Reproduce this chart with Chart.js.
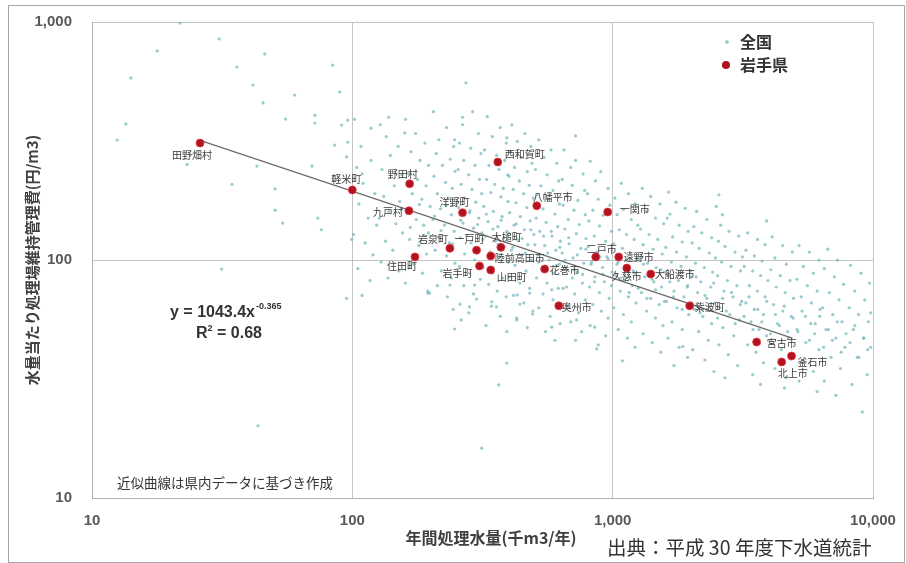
<!DOCTYPE html>
<html>
<head>
<meta charset="utf-8">
<title>水量当たり処理場維持管理費</title>
<script src="https://cdn.jsdelivr.net/npm/chart.js@4.4.1/dist/chart.umd.min.js"></script>
<style>
  html, body { margin: 0; padding: 0; background: #fff; }
  #wrap { position: relative; width: 906px; height: 563px; }
  #frame { position: absolute; left: 8px; top: 5px; width: 895px; height: 556px; border: 1px solid #a6a6a6; pointer-events: none; }
  canvas { position: absolute; left: 0; top: 0; }
</style>
</head>
<body>
<div id="wrap">
  <canvas id="chart" width="906" height="563"></canvas>
  <div id="frame"></div>
</div>
<script>
const xTickValues = [10, 100, 1000, 10000];
const xTickLabels = ["10", "100", "1,000", "10,000"];
const yTickValues = [10, 100, 1000];
const yTickLabels = ["10", "100", "1,000"];

// 岩手県 (県内の処理場)
const iwateNames = [
  "田野畑村", "軽米町", "野田村", "九戸村", "洋野町", "西和賀町", "八幡平市", "一関市",
  "岩泉町", "一戸町", "大槌町", "陸前高田市", "住田町", "岩手町", "山田町", "花巻市",
  "二戸市", "遠野市", "久慈市", "大船渡市", "紫波町", "奥州市", "宮古市", "釜石市", "北上市"
];
const iwateX = [26, 100, 166, 165, 265, 362, 511, 957, 237, 300, 372, 340, 174, 308, 340, 548,
  861, 1055, 1133, 1400, 1977, 621, 3573, 4864, 4458];
const iwateY = [310, 197, 209, 161, 158, 258, 169, 159, 112, 110, 113, 104, 103, 94.4, 90.8, 91.6,
  103, 103, 92.5, 87.3, 64.2, 64.2, 45.2, 39.5, 37.3];

// label placement: [dx, dy, align]
const labelPlace = [
  [-8, 12, "center"], [-6, -11, "center"], [-7, -10, "center"], [-6, 1, "right"],
  [-8, -11, "center"], [7, -8, "left"], [-4, -9, "left"], [12, -3, "left"],
  [-2, -9, "right"], [-7, -11, "center"], [6, -10, "center"], [4, 2, "left"],
  [-13, 9, "center"], [-22, 7, "center"], [21, 7, "center"], [5, 1, "left"],
  [6, -8, "center"], [5, 0, "left"], [0, 8, "center"], [4, 0, "left"],
  [5, 1, "left"], [3, 1, "left"], [10, 1, "left"], [6, 6, "left"], [11, 11, "center"]
];

// 近似曲線 y = 1043.4x^-0.365 (県内データ)
const trendX = [26, 4900];
const trendY = [318, 47];

// 全国
const zenkoku = [
  // sparse, small plants
  [21.8,990],[30.8,849],[17.8,756],[46.1,734],[36,647],[14.1,582],[41.5,543],[84,659],[89.5,508],[60,493],
  [45.4,457],[55.4,391],[71.8,406],[71.8,376],[13.5,373],[12.5,319],[91,369],[96,387],[85.5,304],[96,313],
  [70,248],[43,248],[23.2,252],[34.5,208],[50.5,199],[50.5,162],[54,143],[73.7,150],[76,134],[95,271],
  [99.5,122],[31.5,91.6],[95,69],[109,71],[198,72.6],[43.4,20.1],
  [138,398],[265,398],[720,332],[392,326],[118,358],[159,342],[247,320],
  [247,51.3],[392,36.9],[365,29.9],[314,16.2],[869,42.3],[583,52.2],[428,56],[493,59.3],[440,65.3],
  [358,63.5],[282,63.5],[259,65.3],[195,72.6],[300,68.5],[343,66.7],[237,78.5],[295,78.5],[430,71.3],
  [480,72.6],[665,77],[727,56],[853,52.2],[583,75],[1090,37.7],[1860,43.3],
  // 100 - 126
  [102,390],[108,300],[104,245],[118,262],[110,210],[122,190],[106,172],[115,150],[124,140],[101,128],
  [112,118],[120,105],[105,92],[117,82],[109,230],
  // 126 - 158
  [128,370],[135,330],[150,300],[140,275],[130,240],[155,228],[145,205],[132,185],[152,176],[138,160],
  [127,150],[147,142],[156,130],[134,120],[143,110],[129,98],[151,90],[137,84],
  // 158 - 200
  [160,390],[175,340],[190,310],[168,285],[182,262],[196,250],[163,232],[178,218],[192,205],[170,190],
  [185,180],[199,168],[162,158],[176,148],[188,140],[196,130],[166,122],[180,115],[193,106],[172,96],
  [186,88],[160,80],[195,74],
  // 200 - 251
  [205,420],[230,360],[215,320],[245,300],[210,280],[238,265],[222,250],[248,236],[206,225],[228,212],
  [242,200],[212,190],[234,182],[250,172],[218,164],[240,155],[204,148],[226,140],[246,132],[214,125],
  [236,118],[208,110],[230,104],[248,97],[220,90],[240,84],[212,78],[232,70],[244,62],
  // 251 - 316
  [273,555],[290,420],[265,370],[305,340],[258,310],[285,295],[312,280],[268,262],[296,250],[255,240],
  [280,228],[308,218],[262,208],[288,198],[314,190],[270,182],[298,175],[256,166],[282,158],[306,150],
  [266,143],[292,136],[315,130],[260,124],[286,118],[302,112],[270,106],[295,100],[258,94],[282,88],
  [310,83],[268,78],[292,72],[280,60],[262,56],
  // 316 - 398
  [330,400],[370,360],[345,330],[390,310],[322,290],[358,275],[385,262],[335,250],[366,240],[395,228],
  [328,218],[352,208],[380,200],[340,192],[372,184],[396,176],[320,168],[348,160],[376,152],[332,145],
  [362,138],[392,132],[325,126],[355,120],[384,114],[338,108],[368,103],[397,98],[318,93],[346,88],
  [378,84],[334,79],[360,74],[390,70],[342,64],[370,58],[326,53],[392,50],
  // 398 - 501
  [410,370],[460,340],[430,315],[485,300],[405,285],[445,270],[490,255],[420,245],[470,235],[400,225],
  [438,215],[478,206],[415,198],[455,190],[495,182],[425,174],[468,166],[402,158],[442,152],[482,146],
  [418,140],[458,134],[498,128],[430,122],[472,116],[408,110],[448,105],[488,100],[422,95],[465,90],
  [400,85],[440,80],[480,76],[416,71],[456,66],[494,61],[428,57],[470,52],
  // 501 - 631
  [520,320],[580,290],[545,270],[610,255],[505,240],[560,228],[620,215],[530,205],[590,196],[512,188],
  [565,180],[625,172],[540,164],[600,156],[508,150],[555,144],[615,138],[525,132],[585,126],[630,120],
  [548,115],[605,110],[515,105],[570,100],[625,96],[535,92],[595,88],[510,84],[560,80],[618,76],
  [540,72],[590,68],[520,63],[575,58],[628,54],[552,50],[600,46],
  // 631 - 794
  [650,290],[720,262],[690,245],[770,230],[640,218],[700,206],[780,196],[665,186],[735,178],[645,170],
  [710,162],[785,155],[675,148],[745,141],[655,135],[725,129],[790,123],[680,117],[755,112],[640,107],
  [705,102],[775,97],[660,93],[730,89],[700,84],[765,80],[645,76],[715,72],[785,68],[670,64],
  [740,60],[690,55],[760,50],[720,46],
  // 794 - 1000
  [820,260],[900,235],[860,215],[960,200],[800,190],[880,180],[975,170],[840,162],[920,154],[810,146],
  [890,139],[990,132],[850,126],[940,120],[805,114],[870,108],[950,103],[830,98],[915,93],[995,89],
  [855,85],[930,81],[815,77],[890,73],[970,69],[840,65],[905,61],[960,57],[820,53],[940,48],[880,44],
  // 1000 - 1259
  [1080,210],[1150,190],[1020,182],[1220,172],[1100,163],[1040,155],[1180,148],[1250,140],[1060,134],[1130,128],
  [1210,122],[1010,117],[1090,112],[1170,107],[1240,102],[1050,98],[1120,94],[1200,90],[1030,86],[1110,82],
  [1190,78],[1070,74],[1150,70],[1230,66],[1010,63],[1100,59],[1180,55],[1050,51],[1140,47],[1220,43],
  // 1259 - 1585
  [1300,200],[1400,185],[1520,172],[1350,160],[1460,150],[1570,142],[1280,135],[1380,128],[1490,122],[1310,116],
  [1430,111],[1550,106],[1270,101],[1360,97],[1470,93],[1580,89],[1330,85],[1440,81],[1540,77],[1290,73],
  [1400,69],[1510,65],[1350,61],[1460,57],[1560,53],[1310,49],[1420,45],[1530,41],
  // 1585 - 1995
  [1640,193],[1660,156],[1750,175],[1900,165],[1620,150],[1800,140],[1950,132],[1700,125],[1850,119],[1600,113],
  [1760,108],[1920,103],[1680,98],[1830,94],[1990,90],[1640,86],[1790,82],[1940,78],[1720,74],[1880,70],
  [1610,67],[1770,63],[1960,59],[1690,55],[1850,51],[1630,47],[1800,43],[1940,39],[1720,36],
  // 1995 - 2512
  [2560,188],[2500,168],[2640,155],[2100,160],[2300,148],[2050,138],[2200,130],[2400,124],[2020,118],[2150,112],
  [2350,107],[2480,102],[2080,97],[2250,93],[2420,89],[2000,85],[2180,81],[2380,77],[2120,73],[2300,69],
  [2460,66],[2060,62],[2220,58],[2400,54],[2140,50],[2330,46],[2030,42],[2260,38],[2450,34],
  // 2512 - 3162
  [2600,140],[2800,132],[3050,126],[2550,120],[2700,114],[2950,108],[3150,103],[2620,98],[2850,94],[3100,90],
  [2530,86],[2760,82],[3000,78],[2680,74],[2900,70],[3130,67],[2580,63],[2820,59],[3070,56],[2650,52],
  [2920,48],[2560,44],[2780,40],[3020,36],[2700,32],
  // 3162 - 3981
  [3900,146],[3300,130],[3600,122],[3850,116],[3250,110],[3500,104],[3750,99],[3200,94],[3450,90],[3700,86],
  [3950,82],[3350,78],[3600,74],[3850,70],[3250,66],[3500,62],[3800,59],[3400,55],[3650,51],[3900,48],
  [3300,44],[3550,41],[3800,37],[3450,33],[3700,30],
  // 3981 - 5012
  [4100,125],[4500,115],[4900,108],[4200,102],[4650,96],[4050,91],[4400,86],[4800,82],[4250,77],[4600,73],
  [4950,69],[4150,65],[4500,61],[4850,58],[4300,54],[4700,50],[4050,46],[4450,42],[4900,39],[4570,29],
  [4200,35],[4640,32],
  // 5012 - 6310
  [5200,115],[5700,108],[6200,100],[5400,94],[5900,88],[5100,83],[5600,78],[6100,74],[5300,70],[5800,66],
  [6250,62],[5500,58],[6000,54],[5150,50],[5700,46],[6200,42],[5400,38],[5900,34],[5200,31],[6100,28],
  // 6310 - 7943
  [6700,111],[7300,100],[6500,92],[7100,85],[7700,79],[6800,73],[7400,68],[6400,63],[7000,59],[7600,55],
  [6600,51],[7200,47],[7800,43],[6900,39],[7500,35],[7200,27],[6500,31],
  // 7943 - 10000
  [8200,95],[9000,88],[9700,80],[8500,74],[9300,68],[8100,63],[8800,59],[9600,55],[8400,51],[9200,47],
  [9800,43],[8700,39],[9100,23],[9500,33],[8300,30],[9800,60],
  // dense middle band
  [154,163],[167,137],[181,171],[189,127],[207,153],[219,133],[229,169],[243,117],[261,147],[275,127],
  [283,161],[303,141],[317,122],[327,156],[347,135],[363,116],[373,147],[394,127],[413,113],[426,142],
  [449,123],[462,107],[485,134],[503,116],[518,98],[543,126],[563,107],[581,132],[609,95],[627,113],
  [657,100],[678,124],[709,91],[731,105],[767,87],[789,111],[826,96],[851,81],[893,103],[918,87],
  [962,101],[989,78],[1038,96],[1072,84],[1124,100],[1158,73],[1213,88],[1253,76],[1312,96],[1354,69],
  [1418,83],[1463,75],[1531,91],[1583,67],[1657,81],[1711,70],[1791,87],[1849,62],[1936,77],[2011,66],
  [2093,85],[2163,60],[2262,71],[2338,64],[2445,80],[2528,57],[2644,69],[2733,61],[2861,73],[2955,54],
  [3092,65],[3196,58],[3342,70],[3457,51],[3613,62],[3738,55],[3905,67],[4038,49],[4221,59],[4369,53],
  [4563,64],[4722,47],[4935,57],[5108,51],[5337,61],[5522,45],[5768,54],[5971,49],[6238,58],[6459,43],
  [6741,51],[6982,46],[7289,55],[7548,41],[7878,49],[8163,45],[8517,53],[8826,39],[9213,47],[9541,42]
];

const JP = '"Noto Sans CJK JP", "Liberation Sans", sans-serif';
const NUM = '"Liberation Sans", Arial, sans-serif';

const extraText = {
  id: "extraText",
  afterDraw(chart) {
    const { ctx, scales } = chart;
    const xs = scales.x, ys = scales.y;
    ctx.save();

    // 岩手県のラベル
    ctx.font = "10px " + JP;
    ctx.fillStyle = "#3a3a3a";
    ctx.textBaseline = "middle";
    iwateNames.forEach((name, i) => {
      const px = xs.getPixelForValue(iwateX[i]);
      const py = ys.getPixelForValue(iwateY[i]);
      const p = labelPlace[i];
      ctx.textAlign = p[2];
      ctx.fillText(name, px + p[0], py + p[1]);
    });

    // 凡例
    ctx.font = "bold 16px " + JP;
    ctx.fillStyle = "#333";
    ctx.textAlign = "left";
    ctx.fillText("全国", 740, 42);
    ctx.fillText("岩手県", 740, 65);
    ctx.beginPath();
    ctx.arc(727, 42, 1.8, 0, Math.PI * 2);
    ctx.fillStyle = "rgba(110,180,185,0.8)";
    ctx.fill();
    ctx.beginPath();
    ctx.arc(726, 65, 4, 0, Math.PI * 2);
    ctx.fillStyle = "#b0121f";
    ctx.fill();

    // 近似式
    ctx.fillStyle = "#333";
    ctx.font = "bold 16px " + NUM;
    ctx.textAlign = "left";
    ctx.fillText("y = 1043.4x", 170, 313);
    let w = ctx.measureText("y = 1043.4x").width;
    ctx.font = "bold 9px " + NUM;
    ctx.fillText("-0.365", 170 + w + 1, 307);
    ctx.font = "bold 16px " + NUM;
    ctx.fillText("R", 196, 334);
    w = ctx.measureText("R").width;
    ctx.font = "bold 9px " + NUM;
    ctx.fillText("2", 196 + w, 329);
    ctx.font = "bold 16px " + NUM;
    ctx.fillText(" = 0.68", 196 + w + 5, 334);

    // 注記
    ctx.font = "13.5px " + JP;
    ctx.fillStyle = "#333";
    ctx.textAlign = "center";
    ctx.fillText("近似曲線は県内データに基づき作成", 225, 483);

    // x軸タイトル
    ctx.font = "bold 16px " + JP;
    ctx.fillStyle = "#404040";
    ctx.fillText("年間処理水量(千m3/年)", 491, 538);

    // 出典
    ctx.font = "19.5px " + JP;
    ctx.fillStyle = "#333";
    ctx.textAlign = "left";
    ctx.fillText("出典：平成 30 年度下水道統計", 607, 548);
    ctx.restore();
  }
};

new Chart(document.getElementById("chart"), {
  type: "scatter",
  data: {
    datasets: [
      {
        label: "全国",
        data: zenkoku.map(p => ({ x: p[0], y: p[1] })),
        pointRadius: 1.6,
        pointBorderWidth: 0,
        backgroundColor: "rgba(110,180,185,0.7)",
        order: 3
      },
      {
        label: "近似曲線",
        type: "line",
        data: trendX.map((x, i) => ({ x: x, y: trendY[i] })),
        borderColor: "#6b6b6b",
        borderWidth: 1.3,
        pointRadius: 0,
        fill: false,
        order: 2
      },
      {
        label: "岩手県",
        data: iwateX.map((x, i) => ({ x: x, y: iwateY[i] })),
        pointRadius: 4,
        pointBorderWidth: 1,
        backgroundColor: "#b0121f",
        borderColor: "rgba(230,60,70,0.8)",
        order: 1
      }
    ]
  },
  options: {
    responsive: false,
    animation: false,
    events: [],
    layout: { padding: { left: 0, top: 22, right: 33, bottom: 0 } },
    plugins: { legend: { display: false }, tooltip: { enabled: false } },
    scales: {
      x: {
        type: "logarithmic",
        min: 10,
        max: 10000,
        afterBuildTicks: s => { s.ticks = xTickValues.map(v => ({ value: v })); },
        afterFit: s => { s.height = 65; s.paddingLeft = 0; s.paddingRight = 0; },
        ticks: {
          callback: (v, i) => xTickLabels[i],
          font: { family: NUM, size: 15, weight: "bold" },
          color: "#595959",
          padding: 14,
          maxRotation: 0
        },
        grid: { color: "#c4c4c4", drawTicks: false },
        border: { color: "#b0b0b0" }
      },
      y: {
        type: "logarithmic",
        min: 10,
        max: 1000,
        afterBuildTicks: s => { s.ticks = yTickValues.map(v => ({ value: v })); },
        afterFit: s => { s.width = 92; s.paddingTop = 0; s.paddingBottom = 0; },
        ticks: {
          callback: (v, i) => yTickLabels[i],
          font: { family: NUM, size: 15, weight: "bold" },
          color: "#595959",
          padding: 20
        },
        grid: { color: "#c4c4c4", drawTicks: false },
        border: { color: "#b0b0b0" },
        title: {
          display: true,
          text: "水量当たり処理場維持管理費(円/m3)",
          font: { family: JP, size: 15, weight: "bold" },
          color: "#404040",
          padding: { top: 23, bottom: 0 }
        }
      }
    }
  },
  plugins: [extraText]
});
</script>
</body>
</html>
